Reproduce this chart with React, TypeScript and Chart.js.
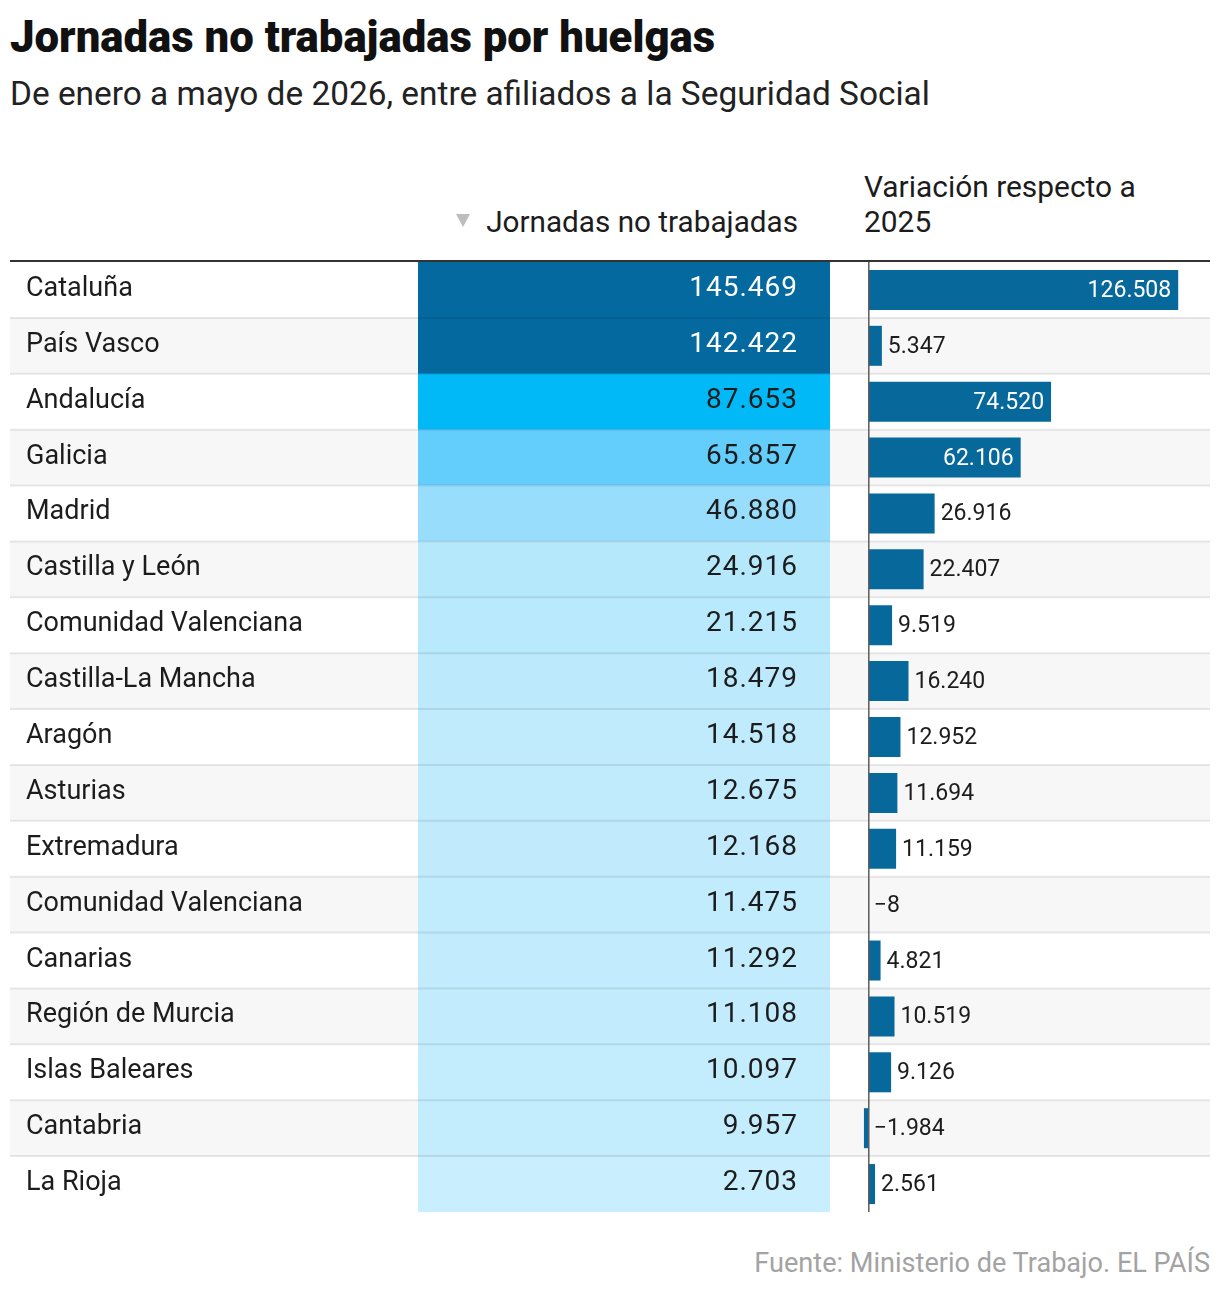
import { useEffect, useRef } from "react";
import { Chart, registerables } from "chart.js";

Chart.register(...registerables);

// Comunidades autónomas, ordenadas por jornadas no trabajadas
const regiones = [
  "Cataluña",
  "País Vasco",
  "Andalucía",
  "Galicia",
  "Madrid",
  "Castilla y León",
  "Comunidad Valenciana",
  "Castilla-La Mancha",
  "Aragón",
  "Asturias",
  "Extremadura",
  "Comunidad Valenciana",
  "Canarias",
  "Región de Murcia",
  "Islas Baleares",
  "Cantabria",
  "La Rioja",
];

// Jornadas no trabajadas, enero-mayo 2026
const jornadas = [
  145469, 142422, 87653, 65857, 46880, 24916, 21215, 18479, 14518, 12675, 12168,
  11475, 11292, 11108, 10097, 9957, 2703,
];

// Variación respecto a 2025
const variacion = [
  126508, 5347, 74520, 62106, 26916, 22407, 9519, 16240, 12952, 11694, 11159, -8,
  4821, 10519, 9126, -1984, 2561,
];

const FONT = "Roboto, 'Noto Sans', sans-serif";
const TEXT = "#1c1c1c";
const BAR = "#07689b";

// Escala de color de las celdas (valor → rgb)
const colorStops: [number, number[]][] = [
  [0, [203, 239, 253]],
  [30000, [178, 230, 252]],
  [50000, [147, 220, 252]],
  [66000, [99, 205, 252]],
  [88000, [0, 185, 247]],
  [140000, [3, 105, 159]],
];

function cellColor(v: number): string {
  if (v <= colorStops[0][0]) return `rgb(${colorStops[0][1].join(",")})`;
  for (let i = 1; i < colorStops.length; i++) {
    const [v1, c1] = colorStops[i];
    const [v0, c0] = colorStops[i - 1];
    if (v <= v1) {
      const t = (v - v0) / (v1 - v0);
      const c = c0.map((a, k) => Math.round(a + (c1[k] - a) * t));
      return `rgb(${c.join(",")})`;
    }
  }
  return `rgb(${colorStops[colorStops.length - 1][1].join(",")})`;
}

function fmt(v: number): string {
  const s = Math.abs(v)
    .toString()
    .replace(/\B(?=(\d{3})+(?!\d))/g, ".");
  return (v < 0 ? "\u2212" : "") + s;
}

function bandOf(chart: any): number {
  const y = chart.scales.y;
  return regiones.length > 1
    ? y.getPixelForValue(1) - y.getPixelForValue(0)
    : y.bottom - y.top;
}

// Filas, separadores, nombres y cifras de la tabla
const tablaPlugin = {
  id: "tabla",
  beforeDatasetsDraw(chart: any) {
    const { ctx, width } = chart;
    const y = chart.scales.y;
    const band = bandOf(chart);
    ctx.save();
    regiones.forEach((_, i) => {
      if (i % 2 === 1) {
        const yc = y.getPixelForValue(i);
        ctx.fillStyle = "#f7f7f7";
        ctx.fillRect(0, yc - band / 2, width, band);
      }
    });
    ctx.restore();
  },
  afterDatasetsDraw(chart: any) {
    const { ctx, width, chartArea } = chart;
    const y = chart.scales.y;
    const band = bandOf(chart);
    ctx.save();
    // separadores entre filas
    ctx.strokeStyle = "rgba(0,0,0,0.085)";
    ctx.lineWidth = 2;
    for (let i = 0; i < regiones.length - 1; i++) {
      const yb = y.getPixelForValue(i) + band / 2;
      ctx.beginPath();
      ctx.moveTo(0, yb);
      ctx.lineTo(width, yb);
      ctx.stroke();
    }
    // nombres de las comunidades
    ctx.font = `400 27px ${FONT}`;
    ctx.fillStyle = TEXT;
    ctx.textAlign = "left";
    ctx.textBaseline = "alphabetic";
    regiones.forEach((r, i) => {
      ctx.fillText(r, 16, y.getPixelForValue(i) + 6);
    });
    // cifras de jornadas
    ctx.font = `400 28px ${FONT}`;
    (ctx as any).letterSpacing = "1px";
    ctx.textAlign = "right";
    jornadas.forEach((v, i) => {
      ctx.fillStyle = v > 100000 ? "#ffffff" : TEXT;
      ctx.fillText(fmt(v), chartArea.right - 32, y.getPixelForValue(i) + 6);
    });
    ctx.restore();
  },
};

// Línea de cero y etiquetas de la variación
const variacionPlugin = {
  id: "variacionEtiquetas",
  afterDatasetsDraw(chart: any) {
    const { ctx, chartArea } = chart;
    const x = chart.scales.x;
    const y = chart.scales.y;
    const x0 = x.getPixelForValue(0);
    ctx.save();
    ctx.strokeStyle = "#5c5c5c";
    ctx.lineWidth = 1.5;
    ctx.beginPath();
    ctx.moveTo(x0, chartArea.top);
    ctx.lineTo(x0, chartArea.bottom);
    ctx.stroke();

    ctx.font = `400 23px ${FONT}`;
    ctx.textBaseline = "alphabetic";
    const meta = chart.getDatasetMeta(0);
    variacion.forEach((v, i) => {
      const bar = meta.data[i] as any;
      const txt = fmt(v);
      const w = ctx.measureText(txt).width;
      const len = Math.abs(bar.x - bar.base);
      const yy = y.getPixelForValue(i) + 7;
      if (v > 0 && len > w + 16) {
        ctx.fillStyle = "#ffffff";
        ctx.textAlign = "right";
        ctx.fillText(txt, bar.x - 7, yy);
      } else if (v >= 0) {
        ctx.fillStyle = TEXT;
        ctx.textAlign = "left";
        ctx.fillText(txt, bar.x + 6, yy);
      } else {
        ctx.fillStyle = TEXT;
        ctx.textAlign = "left";
        ctx.fillText(txt, bar.base + 5, yy);
      }
    });
    ctx.restore();
  },
};

function TablaJornadas() {
  const ref = useRef<HTMLCanvasElement>(null);
  useEffect(() => {
    if (!ref.current) return;
    const chart = new Chart(ref.current, {
      type: "bar",
      data: {
        labels: regiones,
        datasets: [
          {
            label: "Jornadas no trabajadas",
            // cada celda ocupa la columna completa; el color sale del valor
            data: regiones.map(() => [0, 1]) as any,
            backgroundColor: (c: any) => cellColor(jornadas[c.dataIndex]),
            borderWidth: 0,
            barPercentage: 1,
            categoryPercentage: 1,
          },
        ],
      },
      options: {
        indexAxis: "y",
        responsive: false,
        animation: false,
        layout: { padding: { left: 408, right: 380, top: 0, bottom: 0 } },
        plugins: {
          legend: { display: false },
          tooltip: { enabled: false },
        },
        scales: {
          x: { type: "linear", min: 0, max: 1, display: false },
          y: { type: "category", display: false, offset: true },
        },
      },
      plugins: [tablaPlugin],
    });
    return () => chart.destroy();
  }, []);
  return (
    <canvas
      ref={ref}
      width={1200}
      height={950}
      style={{ position: "absolute", left: 10, top: 262, width: 1200, height: 950 }}
    />
  );
}

function BarrasVariacion() {
  const ref = useRef<HTMLCanvasElement>(null);
  useEffect(() => {
    if (!ref.current) return;
    const chart = new Chart(ref.current, {
      type: "bar",
      data: {
        labels: regiones,
        datasets: [
          {
            label: "Variación respecto a 2025",
            data: variacion,
            backgroundColor: BAR,
            borderWidth: 0,
            barPercentage: 0.716,
            categoryPercentage: 1,
          },
        ],
      },
      options: {
        indexAxis: "y",
        responsive: false,
        animation: false,
        layout: { padding: 0 },
        plugins: {
          legend: { display: false },
          tooltip: { enabled: false },
        },
        scales: {
          x: { type: "linear", min: -8500, max: 139500, display: false },
          y: { type: "category", display: false, offset: true },
        },
      },
      plugins: [variacionPlugin],
    });
    return () => chart.destroy();
  }, []);
  return (
    <canvas
      ref={ref}
      width={362}
      height={950}
      style={{ position: "absolute", left: 848, top: 262, width: 362, height: 950 }}
    />
  );
}

function Text(props: {
  left?: number;
  right?: number;
  top: number;
  size: number;
  weight?: number;
  color?: string;
  children: any;
}) {
  const { left, right, top, size, weight = 400, color = TEXT, children } = props;
  return (
    <div
      style={{
        position: "absolute",
        left,
        right,
        top,
        fontSize: size,
        lineHeight: `${size}px`,
        fontWeight: weight,
        color,
        whiteSpace: "nowrap",
        fontFamily: FONT,
      }}
    >
      {children}
    </div>
  );
}

export default function App() {
  return (
    <div
      style={{
        position: "absolute",
        left: 0,
        top: 0,
        width: 1220,
        height: 1296,
        background: "#ffffff",
        overflow: "hidden",
        fontFamily: FONT,
      }}
    >
      <Text left={10} top={16} size={43.7} weight={900} color="#111111">
        Jornadas no trabajadas por huelgas
      </Text>
      <Text left={10} top={77} size={33.4} color="#222222">
        De enero a mayo de 2026, entre afiliados a la Seguridad Social
      </Text>

      <div
        style={{
          position: "absolute",
          left: 456,
          top: 214,
          width: 0,
          height: 0,
          borderLeft: "7.5px solid transparent",
          borderRight: "7.5px solid transparent",
          borderTop: "13px solid #bdbdbd",
        }}
      />
      <Text right={422} top={207} size={29.7}>
        Jornadas no trabajadas
      </Text>
      <Text left={864} top={172} size={29.9}>
        Variación respecto a
      </Text>
      <Text left={864} top={207} size={29.9}>
        2025
      </Text>

      <TablaJornadas />
      <BarrasVariacion />

      <div
        style={{
          position: "absolute",
          left: 10,
          top: 260,
          width: 1200,
          height: 2,
          background: "#333333",
        }}
      />

      <Text right={10} top={1250} size={27.1} color="#a3a3a3">
        Fuente: Ministerio de Trabajo. EL PAÍS
      </Text>
    </div>
  );
}
